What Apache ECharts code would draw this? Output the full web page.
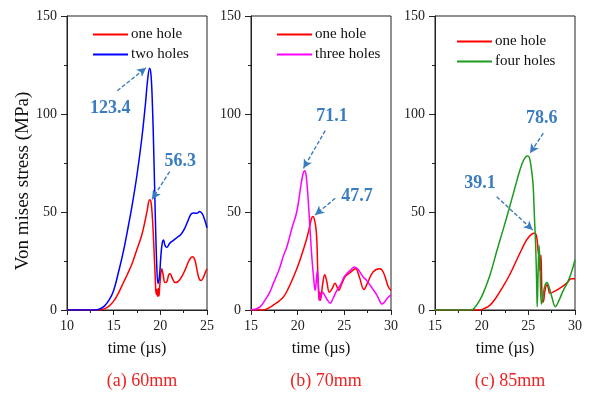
<!DOCTYPE html>
<html><head><meta charset="utf-8">
<script src="https://cdn.jsdelivr.net/npm/echarts@6/dist/echarts.min.js"></script>
<style>html,body{margin:0;padding:0;background:#fff}#c{width:590px;height:393px}</style>
</head><body><div id="c"></div>
<script>
// ---------- data ----------
const xRangeA = [10, 25];
const xRangeB = [15, 30];
const xRangeC = [15, 30];
const yTicks = [0, 50, 100, 150];
const panelTitles = ['(a) 60mm', '(b) 70mm', '(c) 85mm'];
const seriesNames = { a: ['one hole', 'two holes'], b: ['one hole', 'three holes'], c: ['one hole', 'four holes'] };

// (a) 60mm — [time µs, stress MPa]
const oneHoleA = [[10,0],[13.5,0],[14,0.6],[14.5,2],[15,4.5],[15.5,8.5],[16,13.5],[16.5,18.5],[17,24],[17.5,31],[18,38],[18.3,44],[18.6,51],[18.85,56.3],[19.0,55],[19.15,47],[19.3,33],[19.45,17],[19.55,8],[19.62,10.5],[19.7,7],[19.78,11],[19.85,7],[19.95,13],[20.15,21],[20.3,18],[20.5,14],[20.7,14.5],[20.9,18],[21.05,18.5],[21.3,16],[21.6,14],[21.9,14.5],[22.3,17],[22.7,21],[23.1,25.5],[23.45,27.2],[23.7,25.5],[23.95,20],[24.15,16],[24.35,15],[24.6,16.5],[24.85,19.5],[25,21]];
const twoHolesA = [[10,0],[13,0],[13.5,0.5],[14,2],[14.5,5],[15,10],[15.5,19],[16,29],[16.5,41],[17,54],[17.5,69],[18,87],[18.4,105],[18.65,118],[18.85,123.4],[19.0,120],[19.15,105],[19.3,80],[19.45,50],[19.6,25],[19.75,13.5],[19.9,17],[20.05,27],[20.2,34],[20.35,35.7],[20.5,33],[20.7,32],[21.0,34],[21.4,35.5],[21.8,37],[22.2,38.5],[22.6,41.5],[23.0,46],[23.3,49],[23.6,49.5],[23.9,49.3],[24.2,50.2],[24.5,49],[24.75,46],[25,42]];

// (b) 70mm
const oneHoleB = [[15,0],[16.3,0],[16.8,0.8],[17.4,2.5],[18,4.5],[18.5,6.8],[19,11],[19.56,17],[20.1,23.5],[20.6,30.6],[21.0,37],[21.3,43],[21.5,47],[21.65,47.7],[21.8,46],[21.95,42],[22.06,35],[22.15,20],[22.25,8],[22.3,5],[22.38,9],[22.45,5],[22.55,8],[22.7,14],[22.9,18],[23.1,15],[23.4,9],[23.7,11],[24.0,13.6],[24.2,12],[24.4,10],[24.7,13],[25.1,17],[25.6,19],[26.2,21],[26.6,17],[27.1,10.5],[27.5,14],[28.1,19.5],[28.8,21],[29.2,19],[29.7,12],[30,10]];
const threeHolesB = [[15,0],[15.5,0.5],[16,1.7],[16.5,5],[17,9],[17.4,13.6],[18,20.5],[18.5,28],[18.83,32],[19.4,42],[19.9,50],[20.3,62],[20.55,69],[20.73,71.1],[20.9,69],[21.1,58],[21.34,40],[21.55,25],[21.7,17],[21.87,10],[21.98,14],[22.1,20],[22.2,14],[22.35,5],[22.5,7],[22.65,9],[22.9,7.5],[23.2,5],[23.5,3.5],[23.8,6],[24.2,10],[24.6,13],[25.0,17],[25.3,18.7],[25.7,20.5],[26.1,22],[26.5,20.5],[27.0,17],[27.4,15],[28.0,11],[28.5,7.5],[28.8,4.5],[29.0,3],[29.3,4],[29.6,6],[30,7.7]];

// (c) 85mm
const oneHoleC = [[15,0],[19.8,0],[20.3,0.8],[20.9,2.5],[21.5,6],[22.3,12],[23.0,18],[23.75,25.5],[24.3,31],[24.8,35.7],[25.3,38.5],[25.7,39.1],[25.9,37],[26.05,30],[26.15,27],[26.25,20],[26.35,28],[26.45,10],[26.55,4],[26.65,5],[26.75,9],[27.0,13],[27.15,11],[27.3,8.5],[27.6,9],[28.0,10],[28.5,11.5],[29.1,13.6],[29.6,16],[30,16]];
const fourHolesC = [[15,0],[18.9,0],[19.3,1.5],[19.8,5],[20.2,9],[20.9,18],[21.65,30.6],[22.3,41],[23.0,52.7],[23.6,63],[24.1,71.4],[24.5,76.5],[24.9,78.6],[25.1,78],[25.3,73],[25.5,64.6],[25.65,48],[25.8,30.6],[25.9,12],[25.95,1.7],[26.05,20],[26.15,33],[26.25,22],[26.4,3],[26.55,6],[26.75,12],[27.0,14],[27.2,12],[27.5,7],[27.9,1.7],[28.2,4],[28.75,10],[29.2,14],[29.6,19],[30,25.5]];

// peak annotations (data coordinates)
const annotA = [{text:'123.4', at:[14.64,103], from:[15.39,111.9], to:[18.47,123.6]},
                {text:'56.3', at:[22.14,75.7], from:[21.0,70.6], to:[19.11,56.5]}];
const annotB = [{text:'71.1', at:[23.67,98.6], from:[22.95,91.5], to:[20.62,72.3]},
                {text:'47.7', at:[26.35,57.8], from:[24.02,57.0], to:[21.87,48.5]}];
const annotC = [{text:'78.6', at:[26.44,97.8], from:[26.6,90.2], to:[25.18,80]},
                {text:'39.1', at:[19.82,64.6], from:[21.61,57.8], to:[25.47,40.8]}];

// ---------- chart ----------
const FONT = '"Liberation Serif","Times New Roman",serif';
const ANN = '#3a7cc0';
const grids = [
  {left: 67, top: 16, width: 140, height: 294},
  {left: 251, top: 16, width: 140, height: 294},
  {left: 435, top: 16, width: 140, height: 294}
];
const ranges = [xRangeA, xRangeB, xRangeC];

function xAxis(i){
  return {gridIndex:i, type:'value', min:ranges[i][0], max:ranges[i][1], interval:5,
    name:'time (µs)', nameLocation:'middle', nameGap:31,
    nameTextStyle:{fontFamily:FONT, fontSize:16, color:'#111'},
    axisLine:{lineStyle:{color:'#222', width:1}},
    axisTick:{show:true, inside:false, length:5, lineStyle:{color:'#222'}},
    minorTick:{show:true, splitNumber:2, length:3, lineStyle:{color:'#222'}},
    splitLine:{show:false},
    axisLabel:{fontFamily:FONT, fontSize:14, color:'#222', margin:9}};
}
function yAxis(i){
  const o = {gridIndex:i, type:'value', min:yTicks[0], max:yTicks[yTicks.length-1], interval:50,
    axisLine:{show:true, lineStyle:{color:'#222', width:1}},
    axisTick:{show:true, inside:false, length:6, lineStyle:{color:'#222'}},
    minorTick:{show:true, splitNumber:2, length:3, lineStyle:{color:'#222'}},
    splitLine:{show:false},
    axisLabel:{fontFamily:FONT, fontSize:14, color:'#222', margin:10}};
  if(i===0){
    o.name='Von mises stress (MPa)'; o.nameLocation='middle'; o.nameGap=32;
    o.nameTextStyle={fontFamily:FONT, fontSize:19, color:'#111', padding:[0,36,0,0]};
  }
  return o;
}
function annSeries(i, ann){
  return {
    markLine:{silent:true, symbol:['none','arrow'], symbolSize:[7,9],
      lineStyle:{color:ANN, type:[4,2], width:1.4}, label:{show:false},
      data: ann.map(a => [{coord:a.from},{coord:a.to}])},
    markPoint:{silent:true, symbol:'circle', symbolSize:1, itemStyle:{color:'rgba(0,0,0,0)'},
      label:{show:true, position:'inside', color:ANN, fontFamily:FONT, fontWeight:'bold', fontSize:18,
        formatter: p => p.name},
      data: ann.map(a => ({name:a.text, coord:a.at}))}
  };
}
function line(name, data, i, color, ann){
  const s = {type:'line', name, data, xAxisIndex:i, yAxisIndex:i, symbol:'none', smooth:0.4,
    lineStyle:{color, width:1.5, join:'round'}, itemStyle:{color}, z:3};
  if(ann) Object.assign(s, annSeries(i, ann));
  return s;
}
function legend(i, names, left, top){
  return {data:names, orient:'vertical', left, top, itemWidth:35, itemHeight:14, itemGap:5,
    icon:'path://M0,6 L35,6 L35,8 L0,8 Z',
    textStyle:{fontFamily:FONT, fontSize:15, color:'#111', padding:[0,0,0,-2]}};
}
const option = {
  animation:false,
  backgroundColor:'#fff',
  grid: grids.map(g => Object.assign({show:true, borderColor:'#222', borderWidth:1, backgroundColor:'transparent'}, g)),
  xAxis:[0,1,2].map(xAxis),
  yAxis:[0,1,2].map(yAxis),
  title: panelTitles.map((t,i) => ({text:t, left: grids[i].left + grids[i].width/2, top:367, textAlign:'center',
    textStyle:{fontFamily:FONT, fontSize:18, fontWeight:'normal', color:'#ee2222'}})),
  legend:[
    legend(0, seriesNames.a, 88, 22),
    legend(1, seriesNames.b, 272, 22),
    legend(2, seriesNames.c, 452, 29)
  ],
  series:[
    line('one hole', oneHoleA, 0, '#ff0000', null),
    line('two holes', twoHolesA, 0, '#0000ff', annotA),
    line('one hole', oneHoleB, 1, '#ff0000', null),
    line('three holes', threeHolesB, 1, '#ff00ff', annotB),
    line('one hole', oneHoleC, 2, '#ff0000', null),
    line('four holes', fourHolesC, 2, '#1e9a1e', annotC)
  ]
};
const chart = echarts.init(document.getElementById('c'), null, {renderer:'canvas'});
chart.setOption(option);
</script></body></html>
